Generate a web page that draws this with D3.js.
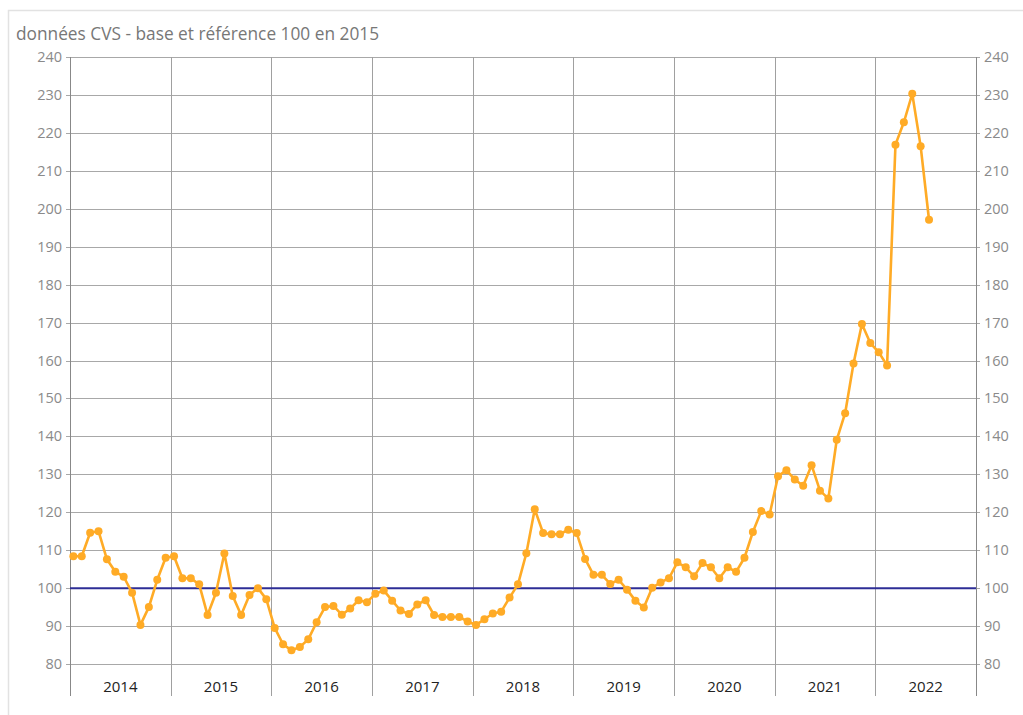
<!DOCTYPE html>
<html>
<head>
<meta charset="utf-8">
<script src="https://cdn.jsdelivr.net/npm/d3@7"></script>
<style>
  body { margin: 0; background: #fff; }
  svg { font-family: "Open Sans", sans-serif; }
</style>
</head>
<body>
<svg width="1023" height="715"></svg>
<script>
const width = 1023, height = 715;

// Data: monthly values, Jan 2014 -> Jul 2022
const years = ["2014", "2015", "2016", "2017", "2018", "2019", "2020", "2021", "2022"];
const yTicks = [80, 90, 100, 110, 120, 130, 140, 150, 160, 170, 180, 190, 200, 210, 220, 230, 240];
const refValue = 100;
const values = [
    108.4, 108.4, 114.6, 115.0, 107.6, 104.3, 103.0, 98.8, 90.3, 95.0, 102.2, 108.0,
    108.4, 102.6, 102.6, 101.0, 92.9, 98.8, 109.1, 97.9, 92.9, 98.2, 100.0, 97.1,
    89.5, 85.2, 83.6, 84.5, 86.5, 91.0, 95.0, 95.3, 93.0, 94.6, 96.8, 96.3,
    98.5, 99.4, 96.7, 94.1, 93.2, 95.7, 96.8, 92.9, 92.4, 92.4, 92.4, 91.2,
    90.3, 91.8, 93.3, 93.8, 97.5, 101.0, 109.2, 120.8, 114.5, 114.2, 114.2, 115.4,
    114.5, 107.7, 103.5, 103.5, 101.1, 102.2, 99.6, 96.7, 94.9, 100.1, 101.5, 102.6,
    106.8, 105.5, 103.1, 106.6, 105.5, 102.6, 105.5, 104.3, 108.0, 114.8, 120.3, 119.4,
    129.5, 131.1, 128.6, 127.0, 132.4, 125.7, 123.6, 139.1, 146.1, 159.2, 169.6, 164.6,
    162.2, 158.7, 216.9, 222.8, 230.3, 216.5, 197.1
];

const plotLeft = 70, plotRight = 976, plotTop = 57, plotBottom = 664, axisBottom = 696;

const svg = d3.select("svg");

// outer frame
svg.append("path")
    .attr("d", `M8.5,${height} L8.5,10.5 L${width},10.5`)
    .attr("fill", "none")
    .attr("stroke", "#e2e2e2")
    .attr("stroke-width", 1.5);

svg.append("text")
    .attr("x", 16).attr("y", 40)
    .attr("fill", "#777")
    .attr("font-size", 17.3)
    .text("données CVS - base et référence 100 en 2015");

const x = d3.scaleLinear().domain([0, years.length * 12]).range([plotLeft, plotRight]);
const y = d3.scaleLinear().domain([80, 240]).range([plotBottom, plotTop]);

// horizontal grid
svg.append("g")
    .selectAll("line")
    .data(yTicks)
    .join("line")
    .attr("x1", plotLeft - 4).attr("x2", plotRight + 4)
    .attr("y1", d => Math.round(y(d)) + 0.5).attr("y2", d => Math.round(y(d)) + 0.5)
    .attr("stroke", "#a8a8a8")
    .attr("stroke-width", 1);

// year separators + axis lines
const yearBounds = d3.range(years.length + 1);
svg.append("g")
    .selectAll("line")
    .data(yearBounds)
    .join("line")
    .attr("x1", d => Math.round(x(d * 12)) + 0.5).attr("x2", d => Math.round(x(d * 12)) + 0.5)
    .attr("y1", plotTop).attr("y2", axisBottom)
    .attr("stroke", d => (d === 0 || d === years.length) ? "#888" : "#a0a0a0")
    .attr("stroke-width", 1);

// left / right tick labels
const labelG = svg.append("g").attr("font-size", 14.5).attr("fill", "#8a8a8a");
labelG.selectAll("text.l")
    .data(yTicks)
    .join("text")
    .attr("class", "l")
    .attr("x", plotLeft - 8).attr("y", d => y(d) + 5)
    .attr("text-anchor", "end")
    .text(d => d);
labelG.selectAll("text.r")
    .data(yTicks)
    .join("text")
    .attr("class", "r")
    .attr("x", plotRight + 8).attr("y", d => y(d) + 5)
    .attr("text-anchor", "start")
    .text(d => d);

// year labels
svg.append("g")
    .selectAll("text")
    .data(years)
    .join("text")
    .attr("x", (d, i) => x(i * 12 + 6))
    .attr("y", 692)
    .attr("text-anchor", "middle")
    .attr("font-size", 15)
    .attr("fill", "#222")
    .text(d => d);

// reference line at 100
svg.append("line")
    .attr("x1", plotLeft).attr("x2", plotRight)
    .attr("y1", y(refValue)).attr("y2", y(refValue))
    .attr("stroke", "#2e2e96")
    .attr("stroke-width", 2);

// series
const offset = 0.4;
const line = d3.line()
    .x((d, i) => x(i + offset))
    .y(d => y(d));

svg.append("path")
    .datum(values)
    .attr("d", line)
    .attr("fill", "none")
    .attr("stroke", "#ffab26")
    .attr("stroke-width", 2.6)
    .attr("stroke-linejoin", "round");

svg.append("g")
    .selectAll("circle")
    .data(values)
    .join("circle")
    .attr("cx", (d, i) => x(i + offset))
    .attr("cy", d => y(d))
    .attr("r", 4)
    .attr("fill", "#ffab26");
</script>
</body>
</html>
